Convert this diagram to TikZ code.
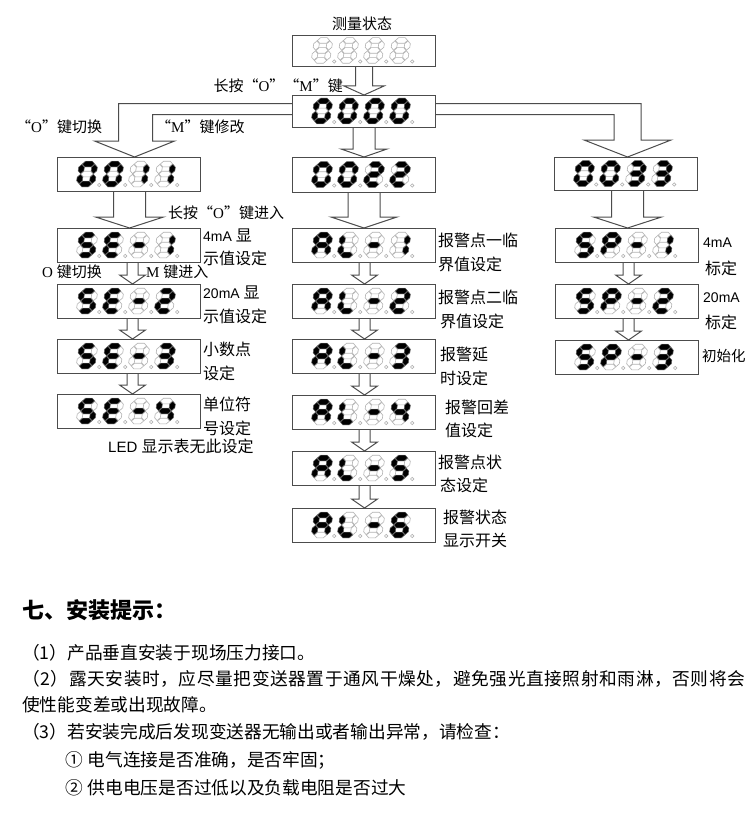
\documentclass[tikz,border=0pt]{standalone}
\usepackage{fontspec}
\setmainfont{Liberation Serif}
\newfontfamily\cjk{Noto Sans CJK SC}
\newfontfamily\ars{Liberation Sans}
\newfontfamily\tnr{Liberation Serif}
\usetikzlibrary{calc}

\def\dH{20}\def\dHH{10}\def\dW{13}\def\dh{2.8}\def\dg{0.4}
\def\sgzero{a,b,c,d,e,f}
\def\sgone{b,c}
\def\sgtwo{a,b,g,e,d}
\def\sgthree{a,b,g,c,d}
\def\sgfour{f,g,b,c}
\def\sgfive{a,f,g,c,d}
\def\sgsix{a,f,g,e,d,c}
\def\sgE{a,f,g,e,d}
\def\sgA{a,b,c,e,f,g}
\def\sgL{f,e,d}
\def\sgP{a,b,f,g,e}
\def\sgdash{g}
\def\sgnone{x}

\newcommand\hseg[2]{\path[#1] (\dg,#2) -- (\dg+\dh,#2-\dh) -- (\dW-\dg-\dh,#2-\dh) -- (\dW-\dg,#2) -- (\dW-\dg-\dh,#2+\dh) -- (\dg+\dh,#2+\dh) -- cycle;}
\newcommand\vseg[3]{\path[#1] (#2,#3+\dg) -- (#2+\dh,#3+\dg+\dh) -- (#2+\dh,#3+\dHH-\dg-\dh) -- (#2,#3+\dHH-\dg) -- (#2-\dh,#3+\dHH-\dg-\dh) -- (#2-\dh,#3+\dg+\dh) -- cycle;}
\newcommand\oneseg[2]{%
 \if a#2\hseg{#1}{-\dH}\fi
 \if b#2\vseg{#1}{\dW}{-\dH}\fi
 \if c#2\vseg{#1}{\dW}{-\dHH}\fi
 \if d#2\hseg{#1}{0}\fi
 \if e#2\vseg{#1}{0}{-\dHH}\fi
 \if f#2\vseg{#1}{0}{-\dH}\fi
 \if g#2\hseg{#1}{-\dHH}\fi}
\newcommand\sevenseg[3]{%
 \begin{scope}[shift={(#1,#2)},xslant=0.15]
  \foreach \s in {a,b,c,d,e,f,g}{\oneseg{segoff}{\s}}
  \foreach \s in #3{\oneseg{segon}{\s}}
 \end{scope}
 \draw[segoff] (#1+\dW+7.2,#2+1) circle (1.7);}
\newcommand\dispunit[9]{%
 \node[dispbox,minimum width=#4,minimum height=#5,anchor=north west] (#1) at (#2,#3) {};
 \sevenseg{#2+22}{#3+#5/2+10}{#6}
 \sevenseg{#2+48}{#3+#5/2+10}{#7}
 \sevenseg{#2+74}{#3+#5/2+10}{#8}
 \sevenseg{#2+100}{#3+#5/2+10}{#9}}
\newcommand\blockdown[6]{%
 \coordinate (bt) at ($(#2.north)+(#3,0)$);
 \draw[arrowline] ($(bt |- #1.south)+(-#4,0)$) -- ($(bt)+(-#4,-#6)$) -- ($(bt)+(-#5,-#6)$) -- (bt) -- ($(bt)+(#5,-#6)$) -- ($(bt)+(#4,-#6)$) -- ($(bt |- #1.south)+(#4,0)$);}

\makeatletter
\def\spreadline#1#2{\hbox to #1{\spr@first#2\@nil}}
\def\spr@first#1{#1\spr@loop}
\def\spr@loop#1{\ifx#1\@nil\else\hfil#1\expandafter\spr@loop\fi}
\makeatother

\tikzset{
 dispbox/.style={draw=black!70, line width=1.1pt, fill=white, inner sep=0},
 segoff/.style={draw=black!30, line width=0.6pt},
 segon/.style={fill=black, draw=black!60, line width=0.4pt},
 arrowline/.style={draw=black!70, line width=1pt, line join=miter},
 lbl/.style={inner sep=0, anchor=west, font=\cjk\fontsize{16}{18}\selectfont},
 lblE/.style={lbl, anchor=east},
 body/.style={inner sep=0, anchor=west, font=\cjk\fontsize{17.7}{20}\selectfont},
}

\begin{document}
\begin{tikzpicture}[x=1pt,y=-1pt]
\fill[white] (0,0) rectangle (748,824);
\useasboundingbox (0,0) rectangle (748,824);

% displays
\dispunit{m}{292}{35}{143}{31}{\sgnone}{\sgnone}{\sgnone}{\sgnone}
\dispunit{b0}{292}{95}{143}{32}{\sgzero}{\sgzero}{\sgzero}{\sgzero}
\dispunit{d1}{57}{157}{143}{34}{\sgzero}{\sgzero}{\sgone}{\sgone}
\dispunit{d2}{292}{157}{143}{35}{\sgzero}{\sgzero}{\sgtwo}{\sgtwo}
\dispunit{d3}{554}{157}{143}{33}{\sgzero}{\sgzero}{\sgthree}{\sgthree}

\dispunit{se1}{57}{228}{143}{34}{\sgfive}{\sgE}{\sgdash}{\sgone}
\dispunit{se2}{57}{284}{143}{34}{\sgfive}{\sgE}{\sgdash}{\sgtwo}
\dispunit{se3}{57}{339}{143}{34}{\sgfive}{\sgE}{\sgdash}{\sgthree}
\dispunit{se4}{57}{394}{143}{34}{\sgfive}{\sgE}{\sgdash}{\sgfour}

\dispunit{al1}{292}{228}{143}{34}{\sgA}{\sgL}{\sgdash}{\sgone}
\dispunit{al2}{292}{284}{143}{34}{\sgA}{\sgL}{\sgdash}{\sgtwo}
\dispunit{al3}{292}{339}{143}{34}{\sgA}{\sgL}{\sgdash}{\sgthree}
\dispunit{al4}{292}{395}{143}{34}{\sgA}{\sgL}{\sgdash}{\sgfour}
\dispunit{al5}{292}{451}{143}{34}{\sgA}{\sgL}{\sgdash}{\sgfive}
\dispunit{al6}{292}{508}{143}{34}{\sgA}{\sgL}{\sgdash}{\sgsix}

\dispunit{sp1}{555}{228}{143}{34}{\sgfive}{\sgP}{\sgdash}{\sgone}
\dispunit{sp2}{555}{284}{143}{34}{\sgfive}{\sgP}{\sgdash}{\sgtwo}
\dispunit{sp3}{555}{340}{143}{34}{\sgfive}{\sgP}{\sgdash}{\sgthree}

% block arrows
\blockdown{m}{b0}{0}{8.5}{20}{9}
\blockdown{b0}{d2}{0}{11}{23}{8}
\blockdown{d1}{se1}{0.5}{16}{34}{11}
\blockdown{d2}{al1}{0}{16}{33}{11}
\blockdown{d3}{sp1}{0.5}{16}{34}{11}
\blockdown{se1}{se2}{3.5}{5.5}{13}{9}
\blockdown{se2}{se3}{3.5}{5.5}{13}{9}
\blockdown{se3}{se4}{3.5}{5.5}{13}{9}
\blockdown{al1}{al2}{0.5}{5.5}{13}{9}
\blockdown{al2}{al3}{0.5}{5.5}{13}{9}
\blockdown{al3}{al4}{0.5}{5.5}{13}{9}
\blockdown{al4}{al5}{0.5}{5.5}{13}{9}
\blockdown{al5}{al6}{0.5}{5.5}{13}{9}
\blockdown{sp1}{sp2}{1.5}{5.5}{13}{9}
\blockdown{sp2}{sp3}{1.5}{5.5}{13}{9}

% bent block arrows
\coordinate (lt) at ($(d1.north)+(5.5,0)$);
\draw[arrowline] ($(b0.west)+(0,-8)$) -| ($(lt)+(-16,-16)$) -- ($(lt)+(-40,-16)$) -- (lt) -- ($(lt)+(40,-16)$) -- ($(lt)+(18,-16)$) |- ($(b0.west)+(0,3)$);
\coordinate (rt) at ($(d3.north)+(1.5,0)$);
\draw[arrowline] ($(b0.east)+(0,-8)$) -| ($(rt)+(13.5,-17)$) -- ($(rt)+(43.5,-17)$) -- (rt) -- ($(rt)+(-43.5,-17)$) -- ($(rt)+(-13.5,-17)$) |- ($(b0.east)+(0,3)$);

% labels
\node[inner sep=0, font=\cjk\fontsize{15}{17}\selectfont] (t0) at (362,24) {测量状态};
\node[lblE, font=\cjk\fontsize{15}{17}\selectfont] (k1) at (343,86) {长按“\tnr O\cjk ”“\tnr M\cjk ”键};
\node[lbl, font=\cjk\fontsize{15}{17}\selectfont] (k2) at (16,127) {“\tnr O\cjk ”键切换};
\node[lbl, font=\cjk\fontsize{15}{17}\selectfont] (k3) at (156,127) {“\tnr M\cjk ”键修改};
\node[lbl, font=\cjk\fontsize{15}{17}\selectfont] (k4) at (168,213) {长按“\tnr O\cjk ”键进入};
\node[lbl, font=\cjk\fontsize{15}{17}\selectfont] (k5) at (42,272) {\tnr O \cjk 键切换};
\node[lbl, font=\cjk\fontsize{15}{17}\selectfont] (k6) at (146,272) {\tnr M \cjk 键进入};

\node[lbl] (s1a) at (203,235) {\ars\fontsize{14}{16}\selectfont 4mA \cjk\fontsize{16}{18}\selectfont 显};
\node[lbl] (s1b) at (203,258) {示值设定};
\node[lbl] (s2a) at (203,292) {\ars\fontsize{14}{16}\selectfont 20mA \cjk\fontsize{16}{18}\selectfont 显};
\node[lbl] (s2b) at (203,316) {示值设定};
\node[lbl] (s3a) at (203,349) {小数点};
\node[lbl] (s3b) at (203,373) {设定};
\node[lbl] (s4a) at (203,404) {单位符};
\node[lbl] (s4b) at (203,428) {号设定};
\node[lbl] (led) at (108,446) {\ars\fontsize{15}{17}\selectfont LED \cjk\fontsize{16}{18}\selectfont 显示表无此设定};

\node[lbl] (a1a) at (438,240) {报警点一临};
\node[lbl] (a1b) at (438,264) {界值设定};
\node[lbl] (a2a) at (438,297) {报警点二临};
\node[lbl] (a2b) at (440,321) {界值设定};
\node[lbl] (a3a) at (440,354) {报警延};
\node[lbl] (a3b) at (440,378) {时设定};
\node[lbl] (a4a) at (445,407) {报警回差};
\node[lbl] (a4b) at (445,430) {值设定};
\node[lbl] (a5a) at (438,462) {报警点状};
\node[lbl] (a5b) at (440,485) {态设定};
\node[lbl] (a6a) at (443,517) {报警状态};
\node[lbl] (a6b) at (443,540) {显示开关};

\node[lbl] (p1a) at (703,243) {\ars\fontsize{14}{16}\selectfont 4mA};
\node[lbl] (p1b) at (705,268) {标定};
\node[lbl] (p2a) at (703,298) {\ars\fontsize{14}{16}\selectfont 20mA};
\node[lbl] (p2b) at (705,322) {标定};
\node[lbl, font=\cjk\fontsize{14.5}{16}\selectfont] (p3a) at (702,356) {初始化};

% bottom text
\node[inner sep=0, anchor=west, font=\cjk\bfseries\fontsize{22}{24}\selectfont] (h7) at (22,610) {七、安装提示：};
\node[body] (l1) at (22,653) {（1）产品垂直安装于现场压力接口。};
\node[body] (l2) at (22,679) {\spreadline{723pt}{（2）露天安装时，应尽量把变送器置于通风干燥处，避免强光直接照射和雨淋，否则将会}};
\node[body] (l3) at (22,705) {使性能变差或出现故障。};
\node[body] (l4) at (22,732) {（3）若安装完成后发现变送器无输出或者输出异常，请检查：};
\node[body] (l5) at (65,760) {①\hspace{5pt}电气连接是否准确，是否牢固；};
\node[body] (l6) at (65,788) {②\hspace{5pt}供电电压是否过低以及负载电阻是否过大};
\end{tikzpicture}
\end{document}
